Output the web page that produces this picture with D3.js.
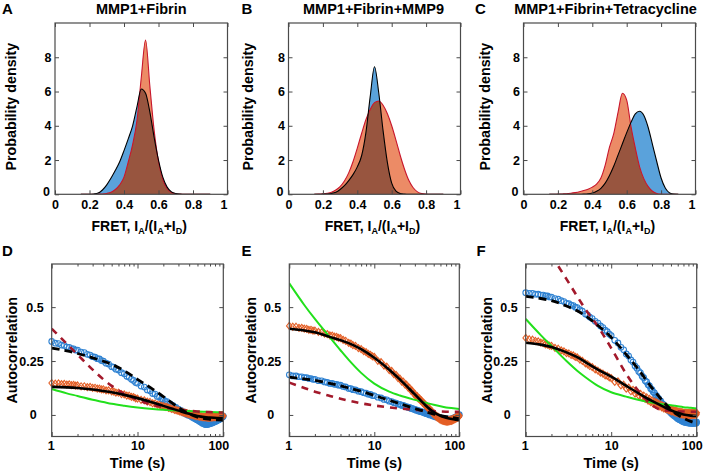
<!DOCTYPE html>
<html><head><meta charset="utf-8">
<script src="https://cdn.jsdelivr.net/npm/d3@7"></script>
<style>
html,body{margin:0;padding:0;background:#fff;}
svg{display:block;font-family:Arial,"Liberation Sans",Helvetica,sans-serif;}
</style></head><body>
<svg id="chart" width="708" height="472"></svg>
<script>
// ---------------- DATA ----------------
// FRET grid for the density curves
const fretX = [0.15,0.175,0.2,0.225,0.25,0.275,0.3,0.325,0.35,0.375,0.4,0.425,0.45,0.475,0.5,0.525,0.55,0.575,0.6,0.625,0.65,0.675,0.7,0.725,0.75,0.775,0.8,0.825,0.85,0.875,0.9];
// Panel A
const densA_blue   = [0,0,0,0.02,0.07,0.25,0.55,0.95,1.4,1.9,2.55,3.25,4.0,5.1,6.15,5.9,4.8,3.3,2.0,1.0,0.42,0.14,0.04,0.01,0,0,0,0,0,0,0];
const densA_orange = [0,0,0,0,0.01,0.02,0.05,0.12,0.28,0.55,1.0,1.9,2.9,4.3,6.8,9.0,6.3,3.7,1.9,0.85,0.32,0.1,0.03,0.01,0,0,0,0,0,0,0];
// Panel B
const densB_blue   = [0,0,0.01,0.02,0.05,0.12,0.28,0.5,0.8,1.15,1.6,2.25,3.6,5.7,7.45,5.9,3.7,1.85,0.65,0.18,0.04,0.01,0,0,0,0,0,0,0,0,0];
const densB_orange = [0,0.01,0.03,0.06,0.12,0.25,0.45,0.78,1.25,1.9,2.7,3.55,4.35,4.95,5.35,5.45,5.2,4.7,4.0,3.15,2.25,1.45,0.8,0.38,0.14,0.04,0.01,0,0,0,0];
// Panel C
const densC_blue   = [0,0,0,0,0,0,0,0,0.01,0.03,0.08,0.18,0.35,0.65,1.1,1.65,2.3,2.95,3.6,4.2,4.7,4.85,4.6,3.9,2.9,1.9,0.95,0.35,0.08,0.01,0];
const densC_orange = [0,0,0.01,0.02,0.03,0.06,0.1,0.15,0.22,0.3,0.42,0.6,0.95,1.7,2.75,3.55,4.8,5.9,5.5,3.95,2.7,1.6,0.9,0.45,0.18,0.05,0.01,0,0,0,0];

const fretTicks = [0,0.2,0.4,0.6,0.8,1];
const fretTickLabels = ["0","0.2","0.4","0.6","0.8","1"];
const densTicks = [0,2,4,6,8];

// Autocorrelation: lag times (s)
const lagTimes = [1,1.1,1.2,1.3,1.4,1.5,1.6,1.7,1.8,1.9,2,2.2,2.4,2.6,2.8,3,3.2,3.4,3.6,3.8,4,4.3,4.6,5,5.3,5.6,6,6.5,7,7.5,8,8.5,9,9.5,10,
 11,12,13,14,15,16,17,18,19,20,21,22,23,24,25,26,27,28,29,30,31,32,33,34,35,36,37,38,39,40,41,42,43,44,45,46,47,48,49,50,51,52,53,54,55,56,57,58,59,60,61,62,63,64,65,66,67,68,69,70,71,72,73,74,75,76,77,78,79,80,81,82,83,84,85,86,87,88,89,90,91,92,93,94,95,96,97,98,99,100];
// Panel D markers
const acfD_blue = [0.341,0.333,0.331,0.324,0.322,0.315,0.314,0.308,0.307,0.301,
 0.301,0.292,0.289,0.281,0.278,0.270,0.268,0.261,0.260,0.252,
 0.250,0.240,0.236,0.224,0.221,0.212,0.208,0.196,0.191,0.179,
 0.175,0.165,0.160,0.150,0.147,
 0.134,0.129,0.116,0.112,0.099,0.097,0.086,0.084,0.074,0.072,
 0.063,0.062,0.053,0.052,0.044,0.043,0.035,0.035,0.027,0.027,
 0.020,0.021,0.014,0.015,0.008,0.010,0.003,0.005,-0.001,0.001,
 -0.004,-0.003,-0.009,-0.008,-0.014,-0.012,-0.018,-0.016,-0.022,-0.020,
 -0.026,-0.024,-0.030,-0.028,-0.034,-0.032,-0.038,-0.036,-0.041,-0.039,
 -0.043,-0.041,-0.045,-0.042,-0.044,-0.040,-0.043,-0.039,-0.041,-0.038,
 -0.040,-0.036,-0.038,-0.034,-0.036,-0.032,-0.034,-0.030,-0.032,-0.028,
 -0.030,-0.026,-0.028,-0.024,-0.026,-0.022,-0.024,-0.020,-0.022,-0.018,
 -0.019,-0.015,-0.017,-0.012,-0.014,-0.010,-0.011,-0.007,-0.008,-0.005];
const acfD_orange = [0.148,0.145,0.146,0.143,0.144,0.141,0.142,0.138,0.139,0.136,
 0.137,0.133,0.133,0.129,0.130,0.126,0.126,0.122,0.122,0.119,
 0.119,0.114,0.114,0.109,0.108,0.104,0.103,0.097,0.095,0.090,
 0.089,0.084,0.083,0.077,0.076,
 0.070,0.068,0.062,0.060,0.054,0.053,0.048,0.047,0.042,0.041,
 0.037,0.037,0.033,0.032,0.028,0.028,0.024,0.024,0.020,0.020,
 0.016,0.017,0.013,0.013,0.010,0.010,0.007,0.007,0.004,0.005,
 0.002,0.003,0.000,0.001,-0.002,-0.001,-0.004,-0.002,-0.005,-0.004,
 -0.007,-0.005,-0.008,-0.006,-0.009,-0.007,-0.010,-0.008,-0.010,-0.009,
 -0.011,-0.009,-0.011,-0.010,-0.012,-0.010,-0.012,-0.010,-0.012,-0.010,
 -0.011,-0.010,-0.011,-0.009,-0.011,-0.009,-0.010,-0.009,-0.010,-0.008,
 -0.010,-0.008,-0.009,-0.008,-0.009,-0.007,-0.009,-0.007,-0.008,-0.007,
 -0.008,-0.006,-0.007,-0.006,-0.007,-0.005,-0.006,-0.005,-0.005,-0.004];
// Panel E markers
const acfE_blue = [0.186,0.181,0.181,0.177,0.177,0.173,0.173,0.169,0.169,0.165,
 0.165,0.159,0.158,0.153,0.151,0.146,0.146,0.142,0.142,0.138,
 0.138,0.132,0.130,0.123,0.122,0.117,0.116,0.110,0.108,0.103,
 0.101,0.096,0.095,0.090,0.089,
 0.082,0.079,0.072,0.070,0.064,0.062,0.057,0.055,0.050,0.049,
 0.044,0.044,0.039,0.039,0.035,0.035,0.030,0.030,0.026,0.026,
 0.022,0.022,0.018,0.019,0.015,0.015,0.012,0.012,0.009,0.009,
 0.006,0.006,0.003,0.003,0.000,0.001,-0.002,-0.001,-0.005,-0.004,
 -0.007,-0.006,-0.009,-0.008,-0.011,-0.010,-0.013,-0.012,-0.015,-0.014,
 -0.017,-0.015,-0.018,-0.016,-0.019,-0.017,-0.020,-0.018,-0.021,-0.019,
 -0.021,-0.019,-0.021,-0.019,-0.021,-0.019,-0.021,-0.019,-0.021,-0.019,
 -0.020,-0.018,-0.019,-0.016,-0.017,-0.014,-0.016,-0.013,-0.014,-0.011,
 -0.012,-0.009,-0.010,-0.006,-0.007,-0.004,-0.005,-0.002,-0.002,0.001];
const acfE_orange = [0.413,0.409,0.409,0.404,0.404,0.400,0.399,0.395,0.395,0.391,
 0.391,0.385,0.383,0.377,0.375,0.369,0.368,0.363,0.362,0.357,
 0.356,0.348,0.344,0.334,0.331,0.324,0.320,0.310,0.305,0.296,
 0.291,0.283,0.279,0.272,0.269,
 0.251,0.245,0.229,0.224,0.208,0.204,0.189,0.186,0.171,0.168,
 0.155,0.154,0.141,0.140,0.127,0.126,0.113,0.112,0.099,0.098,
 0.086,0.087,0.076,0.077,0.066,0.067,0.056,0.057,0.047,0.048,
 0.038,0.040,0.030,0.032,0.022,0.024,0.014,0.016,0.006,0.008,
 -0.001,0.002,-0.007,-0.004,-0.012,-0.008,-0.016,-0.012,-0.021,-0.017,
 -0.024,-0.019,-0.026,-0.021,-0.028,-0.023,-0.029,-0.024,-0.030,-0.025,
 -0.031,-0.025,-0.031,-0.024,-0.030,-0.024,-0.029,-0.023,-0.028,-0.022,
 -0.027,-0.021,-0.025,-0.019,-0.023,-0.017,-0.021,-0.015,-0.019,-0.013,
 -0.017,-0.011,-0.015,-0.009,-0.013,-0.007,-0.011,-0.005,-0.008,-0.003];
// Panel F markers
const acfF_blue = [0.567,0.564,0.564,0.560,0.560,0.556,0.556,0.552,0.552,0.547,
 0.547,0.540,0.537,0.530,0.526,0.518,0.516,0.509,0.507,0.500,
 0.498,0.488,0.481,0.468,0.463,0.454,0.447,0.434,0.426,0.413,
 0.405,0.393,0.386,0.375,0.368,
 0.346,0.334,0.314,0.302,0.283,0.273,0.255,0.245,0.227,0.217,
 0.202,0.195,0.180,0.173,0.158,0.153,0.140,0.135,0.122,0.117,
 0.106,0.103,0.092,0.089,0.078,0.076,0.066,0.064,0.054,0.052,
 0.044,0.043,0.035,0.034,0.026,0.026,0.019,0.019,0.012,0.012,
 0.005,0.007,0.000,0.002,-0.005,-0.003,-0.010,-0.008,-0.015,-0.013,
 -0.019,-0.016,-0.022,-0.019,-0.025,-0.022,-0.028,-0.025,-0.031,-0.028,
 -0.033,-0.029,-0.034,-0.030,-0.035,-0.031,-0.036,-0.032,-0.037,-0.033,
 -0.037,-0.033,-0.038,-0.034,-0.038,-0.034,-0.038,-0.035,-0.039,-0.035,
 -0.039,-0.035,-0.038,-0.034,-0.038,-0.034,-0.038,-0.033,-0.037,-0.033];
const acfF_orange = [0.357,0.351,0.349,0.343,0.341,0.335,0.333,0.327,0.326,0.321,
 0.320,0.311,0.307,0.299,0.295,0.287,0.285,0.278,0.276,0.269,
 0.267,0.257,0.251,0.239,0.235,0.227,0.222,0.211,0.205,0.196,
 0.192,0.184,0.181,0.174,0.171,
 0.153,0.156,0.137,0.140,0.122,0.127,0.110,0.116,0.099,0.105,
 0.090,0.098,0.082,0.090,0.074,0.082,0.066,0.075,0.059,0.068,
 0.053,0.062,0.048,0.058,0.044,0.052,0.040,0.048,0.035,0.043,
 0.031,0.040,0.028,0.037,0.025,0.033,0.022,0.030,0.019,0.026,
 0.017,0.024,0.015,0.022,0.013,0.020,0.011,0.018,0.009,0.016,
 0.007,0.015,0.006,0.014,0.004,0.013,0.003,0.012,0.002,0.010,
 0.001,0.010,0.000,0.010,0.000,0.009,-0.001,0.009,-0.001,0.009,
 -0.001,0.009,-0.001,0.009,-0.001,0.009,-0.001,0.009,0.000,0.009,
 0.000,0.009,0.000,0.010,0.001,0.010,0.001,0.010,0.002,0.010];

// Model curves, sampled at these times
const fitTimes = [1,1.5,2,3,4,5,7,10,15,20,30,40,50,60,70,85,100];
const fitD_blackDash  = [0.31,0.297,0.285,0.265,0.249,0.235,0.205,0.165,0.12,0.085,0.035,0.005,-0.01,-0.017,-0.02,-0.023,-0.025];
const fitD_blackSolid = [0.13,0.128,0.125,0.118,0.111,0.105,0.093,0.078,0.058,0.042,0.02,0.005,-0.005,-0.01,-0.012,-0.014,-0.015];
const fitD_green      = [0.12,0.10,0.088,0.07,0.06,0.052,0.043,0.035,0.028,0.024,0.02,0.018,0.016,0.015,0.014,0.013,0.012];
const fitD_red        = [0.40,0.33,0.28,0.21,0.165,0.135,0.098,0.07,0.047,0.036,0.025,0.019,0.016,0.014,0.013,0.012,0.011];
const fitE_blackDash  = [0.175,0.167,0.16,0.146,0.135,0.125,0.11,0.09,0.068,0.052,0.03,0.015,0.004,-0.003,-0.008,-0.013,-0.017];
const fitE_blackSolid = [0.40,0.392,0.383,0.362,0.347,0.333,0.305,0.265,0.21,0.165,0.095,0.045,0.013,-0.004,-0.013,-0.02,-0.024];
const fitE_green      = [0.61,0.51,0.445,0.36,0.30,0.255,0.195,0.145,0.108,0.09,0.07,0.057,0.047,0.04,0.035,0.031,0.028];
const fitE_red        = [0.15,0.125,0.108,0.088,0.075,0.066,0.054,0.044,0.035,0.03,0.024,0.02,0.018,0.016,0.015,0.014,0.014];
const fitF_blackDash  = [0.55,0.54,0.53,0.505,0.483,0.46,0.415,0.36,0.28,0.22,0.125,0.065,0.025,0.0,-0.015,-0.03,-0.04];
const fitF_blackSolid = [0.335,0.326,0.315,0.29,0.268,0.245,0.21,0.178,0.135,0.105,0.065,0.04,0.022,0.01,0.002,-0.003,-0.005];
const fitF_green      = [0.445,0.37,0.32,0.25,0.205,0.175,0.135,0.105,0.085,0.072,0.058,0.05,0.045,0.04,0.036,0.033,0.03];
const fitF_red        = [0.95,0.82,0.74,0.63,0.55,0.49,0.41,0.31,0.19,0.12,0.045,0.022,0.019,0.017,0.016,0.015,0.015];

const timeMajorTicks = [1,10,100];
const timeMinorTicks = [2,3,4,5,6,7,8,9,20,30,40,50,60,70,80,90];
const acfTicks = [0,0.25,0.5];
const acfTickLabels = ["0","0.25","0.5"];

// ---------------- DRAWING ----------------
const svg = d3.select("#chart");
const BLUE_FILL = "#5aa2db", ORANGE_FILL = "#ec8b66", BROWN_FILL = "#98553f", RED_LINE = "#c8162c";
const FRAME = "#4a4a4a";
const TICK_FONT = 12.5;

function frame(g, l, r, t, b) {
  g.append("rect").attr("x", l).attr("y", t).attr("width", r - l).attr("height", b - t)
    .attr("fill", "none").attr("stroke", FRAME).attr("stroke-width", 1.2);
}
function styleAxis(sel) {
  sel.select(".domain").remove();
  sel.selectAll(".tick line").attr("stroke", FRAME).attr("stroke-width", 1);
  sel.selectAll("text").attr("font-size", TICK_FONT).attr("font-weight", "bold").attr("fill", "#000")
    .attr("font-family", "Arial, 'Liberation Sans', sans-serif");
}
function letter(x, y, s) {
  svg.append("text").attr("x", x).attr("y", y).text(s)
    .attr("font-size", 15).attr("font-weight", "bold");
}
function yLabel(x, y, s) {
  svg.append("text").attr("transform", `translate(${x},${y}) rotate(-90)`)
    .attr("text-anchor", "middle").attr("font-size", 14.3).attr("font-weight", "bold").text(s);
}

function densityPanel(p) {
  const top = 23, bottom = 194.3;
  const x = d3.scaleLinear().domain([0, 1]).range([p.left, p.right]);
  const y = d3.scaleLinear().domain([0, 10]).range([bottom, top]);
  const g = svg.append("g");
  const area = d3.area().x((d, i) => x(fretX[i])).y0(y(0)).y1(d => y(d)).curve(d3.curveMonotoneX);
  const line = d3.line().x((d, i) => x(fretX[i])).y(d => y(d)).curve(d3.curveMonotoneX);
  const cid = "ov" + p.id;
  svg.append("clipPath").attr("id", cid).append("path").attr("d", area(p.blue));
  const pc = "pc" + p.id;
  svg.append("clipPath").attr("id", pc).append("rect").attr("x", p.left).attr("y", top)
    .attr("width", p.right - p.left).attr("height", bottom - top);
  const inner = g.append("g").attr("clip-path", `url(#${pc})`);
  inner.append("path").attr("d", area(p.blue)).attr("fill", BLUE_FILL);
  inner.append("path").attr("d", area(p.orange)).attr("fill", ORANGE_FILL);
  inner.append("path").attr("d", area(p.orange)).attr("fill", BROWN_FILL).attr("clip-path", `url(#${cid})`);
  inner.append("path").attr("d", line(p.orange)).attr("fill", "none").attr("stroke", RED_LINE).attr("stroke-width", 1.1);
  inner.append("path").attr("d", line(p.blue)).attr("fill", "none").attr("stroke", "#000").attr("stroke-width", 1.1);

  const ax = g.append("g").attr("transform", `translate(0,${bottom})`)
    .call(d3.axisBottom(x).tickValues(fretTicks).tickSize(-4).tickPadding(6)
      .tickFormat((d, i) => fretTickLabels[i]));
  styleAxis(ax);
  ax.selectAll("text").attr("dx", (d, i) => i === fretTicks.length - 1 ? -4 : 0);
  const axT = g.append("g").attr("transform", `translate(0,${top})`)
    .call(d3.axisTop(x).tickValues(fretTicks).tickSize(-4).tickFormat(""));
  styleAxis(axT);
  const ay = g.append("g").attr("transform", `translate(${p.left},0)`)
    .call(d3.axisLeft(y).tickValues(densTicks).tickSize(-4).tickPadding(3.5).tickFormat(d3.format("d")));
  styleAxis(ay);
  ay.selectAll("text").attr("dx", (d, i) => i === 0 ? -1.5 : 0).attr("dy", (d, i) => i === 0 ? "0.1em" : "0.32em");
  const ayR = g.append("g").attr("transform", `translate(${p.right},0)`)
    .call(d3.axisRight(y).tickValues(densTicks).tickSize(-4).tickFormat(""));
  styleAxis(ayR);
  frame(g, p.left, p.right, top, bottom);

  // titles & labels
  svg.append("text").attr("x", (p.left + p.right) / 2 + p.titleDx).attr("y", 13.5).attr("text-anchor", "middle")
    .attr("font-size", 14.5).attr("font-weight", "bold").text(p.title);
  letter(p.letterX, 14, p.letter);
  yLabel(p.yLabX, (top + bottom) / 2 - 2, "Probability density");
  const xl = svg.append("text").attr("x", (p.left + p.right) / 2 - 2).attr("y", 230.5).attr("text-anchor", "middle")
    .attr("font-size", 14).attr("font-weight", "bold");
  xl.append("tspan").text("FRET, I");
  xl.append("tspan").attr("font-size", 9).attr("dy", 3).text("A");
  xl.append("tspan").attr("dy", -3).text("/(I");
  xl.append("tspan").attr("font-size", 9).attr("dy", 3).text("A");
  xl.append("tspan").attr("dy", -3).text("+I");
  xl.append("tspan").attr("font-size", 9).attr("dy", 3).text("D");
  xl.append("tspan").attr("dy", -3).text(")");
}

const diamond = "M0,-3.5L2.8,0L0,3.5L-2.8,0Z";

function acfPanel(p) {
  const top = 264, bottom = 436.5;
  const x = d3.scaleLog().domain([1, 100]).range([p.left, p.right]);
  const y = d3.scaleLinear().domain([-0.1, 0.7]).range([bottom, top]);
  const g = svg.append("g");
  const pc = "pcb" + p.id;
  svg.append("clipPath").attr("id", pc).append("rect").attr("x", p.left).attr("y", top)
    .attr("width", p.right - p.left).attr("height", bottom - top);

  // markers
  g.append("g").selectAll("circle").data(p.blue).join("circle")
    .attr("cx", (d, i) => x(lagTimes[i])).attr("cy", d => y(d)).attr("r", 2.8)
    .attr("fill", "none").attr("stroke", "#2f82d2").attr("stroke-width", 1.1);
  g.append("g").selectAll("path").data(p.orange).join("path")
    .attr("d", diamond)
    .attr("transform", (d, i) => `translate(${x(lagTimes[i])},${y(d)})`)
    .attr("fill", "none").attr("stroke", "#e45f26").attr("stroke-width", 1.1);

  const line = d3.line().x((d, i) => x(fitTimes[i])).y(d => y(d)).curve(d3.curveMonotoneX);
  const lines = g.append("g").attr("clip-path", `url(#${pc})`);
  lines.append("path").attr("d", line(p.green)).attr("fill", "none").attr("stroke", "#22e01c").attr("stroke-width", 2);
  lines.append("path").attr("d", line(p.red)).attr("fill", "none").attr("stroke", "#a3192b").attr("stroke-width", 2.6)
    .attr("stroke-dasharray", "7,6");
  lines.append("path").attr("d", line(p.blackSolid)).attr("fill", "none").attr("stroke", "#000").attr("stroke-width", 2.6);
  lines.append("path").attr("d", line(p.blackDash)).attr("fill", "none").attr("stroke", "#000").attr("stroke-width", 2.8)
    .attr("stroke-dasharray", "8,5");

  const ax = g.append("g").attr("transform", `translate(0,${bottom})`)
    .call(d3.axisBottom(x).tickValues(timeMajorTicks).tickSize(-4.5).tickPadding(5).tickFormat(d3.format("d")));
  styleAxis(ax);
  ax.selectAll("text").attr("dx", (d, i) => i === 0 ? -1 : (i === timeMajorTicks.length - 1 ? -5 : 0));
  const axm = g.append("g").attr("transform", `translate(0,${bottom})`)
    .call(d3.axisBottom(x).tickValues(timeMinorTicks).tickSize(-2.5).tickFormat(""));
  styleAxis(axm);
  const axT = g.append("g").attr("transform", `translate(0,${top})`)
    .call(d3.axisTop(x).tickValues(timeMajorTicks).tickSize(-4.5).tickFormat(""));
  styleAxis(axT);
  const axTm = g.append("g").attr("transform", `translate(0,${top})`)
    .call(d3.axisTop(x).tickValues(timeMinorTicks).tickSize(-2.5).tickFormat(""));
  styleAxis(axTm);
  const ay = g.append("g").attr("transform", `translate(${p.left},0)`)
    .call(d3.axisLeft(y).tickValues(acfTicks).tickSize(-4).tickPadding(8).tickFormat((d, i) => acfTickLabels[i]));
  styleAxis(ay);
  ay.selectAll("text").attr("dx", (d, i) => i === 0 ? -7 : 0);
  const ayR = g.append("g").attr("transform", `translate(${p.right},0)`)
    .call(d3.axisRight(y).tickValues(acfTicks).tickSize(-4).tickFormat(""));
  styleAxis(ayR);
  frame(g, p.left, p.right, top, bottom);

  letter(p.letterX, 255.5, p.letter);
  yLabel(p.yLabX, (top + bottom) / 2, "Autocorrelation");
  svg.append("text").attr("x", (p.left + p.right) / 2).attr("y", 467.5).attr("text-anchor", "middle")
    .attr("font-size", 14.5).attr("font-weight", "bold").text("Time (s)");
}

densityPanel({id: "A", left: 55, right: 227.5, blue: densA_blue, orange: densA_orange,
  title: "MMP1+Fibrin", titleDx: 0, letter: "A", letterX: 2, yLabX: 15.5});
densityPanel({id: "B", left: 288.5, right: 460.5, blue: densB_blue, orange: densB_orange,
  title: "MMP1+Fibrin+MMP9", titleDx: -1, letter: "B", letterX: 241.5, yLabX: 253});
densityPanel({id: "C", left: 523.5, right: 695.5, blue: densC_blue, orange: densC_orange,
  title: "MMP1+Fibrin+Tetracycline", titleDx: -4, letter: "C", letterX: 475, yLabX: 490});

acfPanel({id: "D", left: 51.7, right: 223.3, blue: acfD_blue, orange: acfD_orange,
  blackDash: fitD_blackDash, blackSolid: fitD_blackSolid, green: fitD_green, red: fitD_red,
  letter: "D", letterX: 2, yLabX: 16.5});
acfPanel({id: "E", left: 289.3, right: 459.3, blue: acfE_blue, orange: acfE_orange,
  blackDash: fitE_blackDash, blackSolid: fitE_blackSolid, green: fitE_green, red: fitE_red,
  letter: "E", letterX: 241.5, yLabX: 255.5});
acfPanel({id: "F", left: 525.7, right: 696.7, blue: acfF_blue, orange: acfF_orange,
  blackDash: fitF_blackDash, blackSolid: fitF_blackSolid, green: fitF_green, red: fitF_red,
  letter: "F", letterX: 476.5, yLabX: 491.5});
</script>
</body></html>
